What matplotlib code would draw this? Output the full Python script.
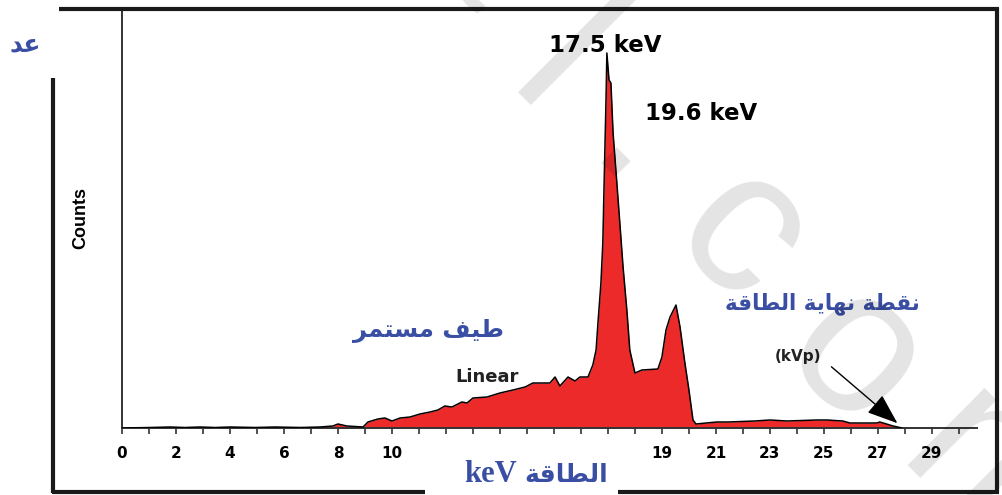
import numpy as np
import matplotlib
matplotlib.use('Agg')
import matplotlib.pyplot as plt

# spectrum (x in axis units, y in arbitrary counts)
energy = [0, 1.04, 1.78, 2.33, 2.89, 3.44, 4.0, 4.93, 5.67, 6.59, 7.33, 7.81, 8.0, 8.33,
          8.93, 9.11, 9.48, 9.74, 10.0, 10.30, 10.67, 11.04, 11.41, 11.70, 11.96, 12.22,
          12.59, 12.78, 13.0, 13.52, 14.0, 14.48, 14.93, 15.22, 15.85, 16.04, 16.22, 16.52,
          16.78, 16.96, 17.26, 17.44, 17.56, 17.63, 17.74, 17.81, 17.85, 17.93, 17.96, 18.04,
          18.11, 18.19, 18.33, 18.44, 18.56, 18.70, 18.81, 19.0, 19.26, 19.85, 20.0, 20.15,
          20.30, 20.52, 20.67, 20.85, 21.0, 21.15, 21.26, 22.04, 22.44, 23.44, 24.0, 24.63,
          25.74, 26.11, 26.70, 26.96, 27.96, 28.07, 28.56, 28.89]
counts = [0, 0.5, 1, 0.5, 1, 0.5, 1, 0.5, 1, 0.5, 1, 2, 4, 2,
          1, 6, 9, 10, 7, 10, 11, 14, 16, 18, 22, 21,
          26, 25, 30, 31, 35, 38, 41, 45, 45, 51, 42, 51,
          47, 51, 51, 63, 78, 105, 145, 185, 235, 331, 375, 348,
          345, 295, 245, 205, 161, 118, 78, 55, 58, 59, 71, 98,
          111, 123, 101, 65, 38, 8, 4, 6, 6, 7, 8, 7,
          8, 8, 7, 5, 5, 6, 2, 0]

label_pos = [0, 2, 4, 6, 8, 10, 20, 22, 24, 26, 28, 30]
label_txt = ['0', '2', '4', '6', '8', '10', '19', '21', '23', '25', '27', '29']

# arabic texts, already in shaped (presentation) forms and visual order,
# matplotlib does no arabic shaping by itself
t_count = '\uFEAA\uFECB'                                      # عد
t_cont = '\uFEAE\uFEE4\uFE98\uFEB4\uFEE3 \uFED2\uFEF4\uFEC3'  # طيف مستمر
t_end = ('\uFE94\uFED7\uFE8E\uFEC4\uFEDF\uFE8D '
         '\uFE94\uFEF3\uFE8E\uFEEC\uFEE7 '
         '\uFE94\uFEC4\uFED8\uFEE7')                          # نقطة نهاية الطاقة
t_energy = '\uFE94\uFED7\uFE8E\uFEC4\uFEDF\uFE8D'             # الطاقة

blue = '#3a4fa3'
red = '#ec2a2a'

fig = plt.figure(figsize=(10.03, 4.95), dpi=100)
W, H = 1003, 495
ax = fig.add_axes([122 / W, 67 / H, 855 / W, 418 / H])
ax.fill_between(energy, counts, color=red, lw=0, zorder=2)
ax.plot(energy, counts, color='black', lw=1.1, zorder=3)
ax.set_xlim(0, 31.67)
ax.set_ylim(0, 418)

ax.spines['top'].set_visible(False)
ax.spines['right'].set_visible(False)
for s in ['left', 'bottom']:
    ax.spines[s].set_color('#333333')
    ax.spines[s].set_linewidth(1.4)
ax.set_yticks([])
ax.set_xticks(range(0, 32))
labels = [''] * 32
for p, t in zip(label_pos, label_txt):
    labels[p] = t
ax.set_xticklabels(labels, fontsize=11, fontweight='bold', family='DejaVu Sans')
ax.tick_params(axis='x', length=4, width=1.2, color='#333333', pad=9)

ax.annotate('', xy=(28.8, 3), xytext=(26.2, 63),
            arrowprops=dict(arrowstyle='-|>,head_length=1.2,head_width=0.45',
                            color='black', lw=1, mutation_scale=16))

# overlay in pixel coordinates for frame and texts
ov = fig.add_axes([0, 0, 1, 1])
ov.set_xlim(0, W)
ov.set_ylim(H, 0)
ov.axis('off')
ov.patch.set_alpha(0)

frame = dict(color='#1a1a1a', lw=3, solid_capstyle='butt')
ov.plot([59, 999], [9, 9], **frame)
ov.plot([997, 997], [8, 493], **frame)
ov.plot([52, 425], [492, 492], **frame)
ov.plot([618, 999], [492, 492], **frame)
ov.plot([53, 53], [78, 493], **frame)

ov.text(81, 218, 'Counts', rotation=90, ha='center', va='center', fontsize=13,
        fontweight='bold', family='Liberation Sans')
ov.text(605, 45, '17.5 keV', ha='center', va='center', fontsize=16.5,
        fontweight='bold', family='DejaVu Sans')
ov.text(701, 113, '19.6 keV', ha='center', va='center', fontsize=16.5,
        fontweight='bold', family='DejaVu Sans')
ov.text(487, 377, 'Linear', ha='center', va='center', fontsize=13,
        fontweight='bold', family='DejaVu Sans', color='#222222')
ov.text(798, 356, '(kVp)', ha='center', va='center', fontsize=11,
        fontweight='bold', family='DejaVu Sans', color='#222222')

ov.text(25, 44, t_count, ha='center', va='center', fontsize=18,
        fontweight='bold', family='DejaVu Sans', color=blue)
ov.text(429, 331, t_cont, ha='center', va='center', fontsize=17.5,
        fontweight='bold', family='DejaVu Sans', color=blue)
ov.text(822, 304, t_end, ha='center', va='center', fontsize=15.5,
        fontweight='bold', family='DejaVu Sans', color=blue)
ov.text(491, 475, 'keV', ha='center', va='center', fontsize=22,
        fontweight='bold', family='Liberation Serif', color=blue)
ov.text(566, 475, t_energy, ha='center', va='center', fontsize=18,
        fontweight='bold', family='DejaVu Sans', color=blue)

# faint watermark, one rotated letter at a time (baseline anchors in pixels)
wm_letters = ['a', 'l', '.', 'c', 'o', 'm']
wm_x = [433, 520, 601, 701, 815, 953]
wm_y = [-21, 107, 182, 277, 399, 525]
for ch, x, y in zip(wm_letters, wm_x, wm_y):
    ov.text(x, y, ch, rotation=-45, rotation_mode='anchor', ha='center',
            va='baseline', fontsize=148, family='Liberation Sans',
            color='black', alpha=0.11, zorder=5)

fig.savefig('out.png', dpi=100)
